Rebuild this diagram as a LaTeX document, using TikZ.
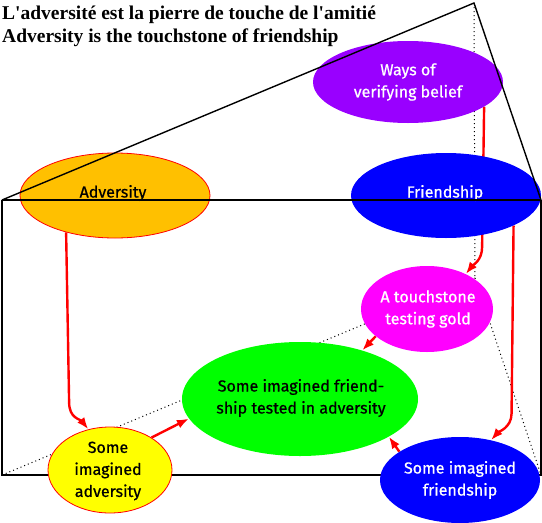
\documentclass[tikz,border=0pt]{standalone}
\usepackage{fontspec}
\setmainfont{Liberation Serif}[Ligatures=TeXOff]
\newfontfamily\elfont{Fira Sans}[FakeBold=0.7]
\usetikzlibrary{shapes.geometric,arrows.meta,calc}
\pgfdeclarelayer{bg}\pgfdeclarelayer{fg}\pgfsetlayers{bg,main,fg}
\definecolor{cpurple}{RGB}{153,0,255}
\definecolor{corange}{RGB}{255,192,0}
\definecolor{cmag}{RGB}{255,0,255}
\definecolor{cgreen}{RGB}{0,255,0}
\definecolor{cyellow}{RGB}{255,255,0}
\definecolor{cblue}{RGB}{0,0,255}
\definecolor{cred}{RGB}{255,0,0}
\tikzset{
  elps/.style={ellipse, inner sep=0pt, draw=none},
  eltext/.style={font=\elfont\fontsize{16}{22}\selectfont, align=center, inner sep=0pt},
  redarr/.style={draw=cred, line width=2.4pt, -{Latex[length=12pt,width=9pt]}},
  edge/.style={draw=black, line width=1.4pt},
  hidden/.style={draw=black, line width=1pt, dash pattern=on 1pt off 3pt},
  titletext/.style={font=\bfseries\fontsize{19.5}{23}\selectfont, inner sep=0pt, anchor=base west}
}
\begin{document}
\begin{tikzpicture}[x=1pt,y=-1pt]
\useasboundingbox (0,0) rectangle (542,523);
% corners of the pyramid
\coordinate (apex) at (474,3);
\coordinate (tl) at (2,200);
\coordinate (tr) at (541,200);
\coordinate (bl) at (2,475);
\coordinate (br) at (541,475);
\coordinate (back) at (475,278);

% titles
\node[titletext] (t1) at (2,19) {L'adversité est la pierre de touche de l'amitié};
\node[titletext] (t2) at (2,42) {Adversity is the touchstone of friendship};

% ellipses
\node[elps, fill=cpurple, minimum width=190pt, minimum height=82pt] (ways) at (408,82) {};
\node[elps, fill=cblue, minimum width=190pt, minimum height=85pt] (friend) at (446,195.5) {};
\node[elps, fill=corange, draw=cred, line width=0.8pt, minimum width=190pt, minimum height=85pt] (adv) at (115,195.5) {};
\node[elps, fill=cmag, minimum width=132pt, minimum height=86pt] (touch) at (427,309) {};
\node[elps, fill=cgreen, minimum width=236pt, minimum height=114pt] (green) at (300,399) {};
\node[elps, fill=cyellow, draw=cred, line width=0.8pt, minimum width=124pt, minimum height=86pt] (yel) at (110,470) {};
\node[elps, fill=cblue, minimum width=160pt, minimum height=86pt] (sif) at (460,480) {};

% texts
\node[eltext, white] (waysT) at (408,82) {Ways of\\verifying belief};
\node[eltext, white] (friendT) at (445,193) {Friendship};
\node[eltext, black] (advT) at (113,193) {Adversity};
\node[eltext, white] (touchT) at (428,309) {A touchstone\\testing gold};
\node[eltext, black] (greenT) at (301,398) {Some imagined friend-\\ship tested in adversity};
\node[eltext, black] (yelT) at (108,471) {Some\\imagined\\adversity};
\node[eltext, white] (sifT) at (460,480) {Some imagined\\friendship};

\begin{pgfonlayer}{bg}
  \draw[hidden] (apex) -- (back);
  \draw[hidden] (bl) -- (back);
  \draw[hidden] (back) -- (br);
  \draw[edge] (tl) -- (bl) -- (br) -- (tr);
  % red arrows
  \draw[redarr] (ways.342) -- ++(-2,140) .. controls +(0,14) and +(7,-9) .. (touch.42);
  \draw[redarr] (adv.217) -- ++(3,170) .. controls +(0,16) and +(-8,-10) .. (yel.118);
  \draw[redarr] (yel.38) -- (green.190);
  \draw[redarr] (touch.208) -- (green.38);
  \draw[redarr] (friend.336) -- ++(-2,188) .. controls +(0,14) and +(7,-8) .. (sif.52);
  \draw[redarr] (sif.155) -- (green.337);
\end{pgfonlayer}

\begin{pgfonlayer}{fg}
  \draw[edge] (tl) -- (apex) -- (tr);
  \draw[edge] (tl) -- (tr);
\end{pgfonlayer}
\end{tikzpicture}
\end{document}
